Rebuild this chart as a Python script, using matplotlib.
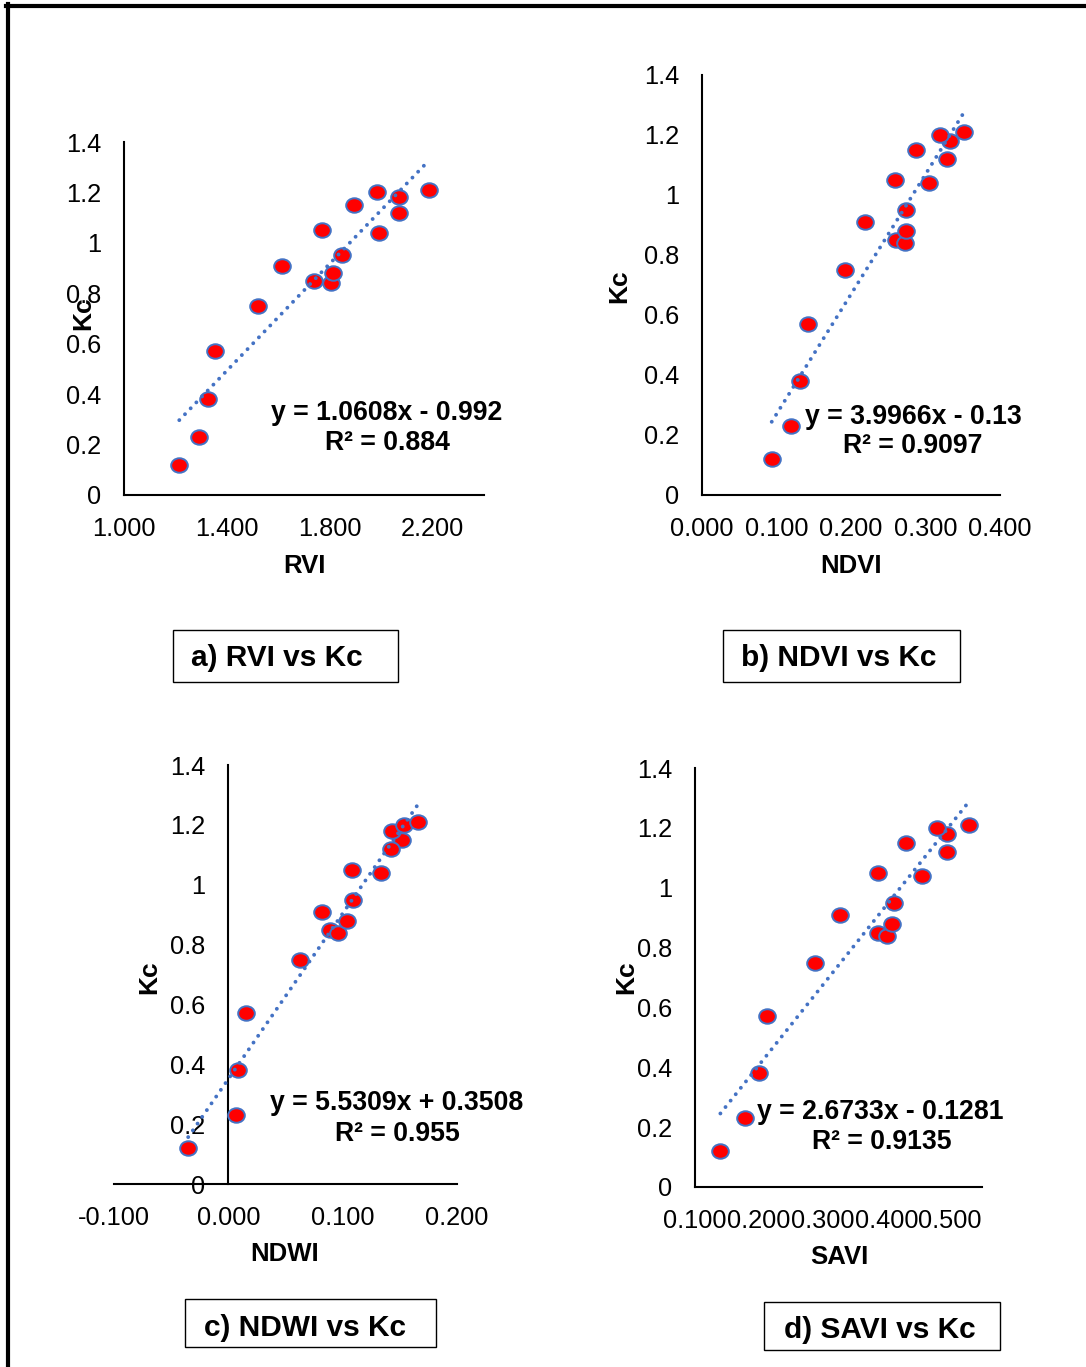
import numpy as np
import matplotlib
matplotlib.use("Agg")
import matplotlib.pyplot as plt
from matplotlib.path import Path
from matplotlib.patches import Rectangle
from matplotlib.lines import Line2D
from matplotlib.ticker import FuncFormatter, FormatStrFormatter

plt.rcParams["font.family"] = ["Liberation Sans", "DejaVu Sans"]
plt.rcParams["axes.unicode_minus"] = False

W, H = 1086, 1367

# Crop coefficient and the four vegetation indices (same sampling dates)
kc = [0.12, 0.23, 0.38, 0.57, 0.75, 0.91, 0.85, 0.84, 0.88, 0.95,
      1.05, 1.04, 1.15, 1.12, 1.18, 1.20, 1.21]
rvi = [1.215, 1.293, 1.326, 1.352, 1.521, 1.615, 1.740, 1.806, 1.814, 1.848,
       1.770, 1.993, 1.894, 2.068, 2.070, 1.985, 2.187]
ndvi = [0.0936, 0.1195, 0.132, 0.1417, 0.1926, 0.2186, 0.2603, 0.2723, 0.2733, 0.2737,
        0.2584, 0.3043, 0.2872, 0.3287, 0.3325, 0.3195, 0.3519]
ndwi = [-0.0351, 0.0067, 0.0085, 0.0155, 0.0627, 0.0815, 0.0885, 0.0961, 0.1037, 0.1091,
        0.1079, 0.1333, 0.1515, 0.1424, 0.1430, 0.1539, 0.1657]
savi = [0.1398, 0.1785, 0.1997, 0.2127, 0.2884, 0.3281, 0.3870, 0.4016, 0.4087, 0.4120,
        0.3874, 0.4561, 0.4316, 0.4958, 0.4953, 0.4800, 0.5291]

index_names = ["RVI", "NDVI", "NDWI", "SAVI"]
panel_titles = ["a) RVI vs Kc", "b) NDVI vs Kc", "c) NDWI vs Kc", "d) SAVI vs Kc"]
slopes = [1.0608, 3.9966, 5.5309, 2.6733]
intercepts = [-0.992, -0.13, 0.3508, -0.1281]
r_squared = [0.884, 0.9097, 0.955, 0.9135]
x_limits = [(1.0, 2.4), (0.0, 0.4), (-0.1, 0.2), (0.1, 0.55)]
x_ticks = [[1.0, 1.4, 1.8, 2.2],
           [0.0, 0.1, 0.2, 0.3, 0.4],
           [-0.1, 0.0, 0.1, 0.2],
           [0.1, 0.2, 0.3, 0.4, 0.5]]
kc_ticks = [0, 0.2, 0.4, 0.6, 0.8, 1.0, 1.2, 1.4]

series = [rvi, ndvi, ndwi, savi]

# Layout in pixels: axes box (left, top, right, bottom), label anchors, caption boxes
layout = [
    dict(ax=(124, 142, 484, 495), xlab=(304, 566), ylab=(83, 313),
         eq=(387, 413), r2=(387, 443), box=(173, 630, 398, 682), cap=(277, 658)),
    dict(ax=(702, 75, 1000, 495), xlab=(851, 566), ylab=(619, 286),
         eq=(913, 417), r2=(913, 446), box=(723, 630, 960, 682), cap=(839, 658)),
    dict(ax=(114, 765, 457, 1184), xlab=(285, 1254), ylab=(149, 977),
         eq=(397, 1103), r2=(397, 1134), box=(185, 1299, 436, 1347), cap=(305, 1328)),
    dict(ax=(695, 768, 982, 1187), xlab=(839, 1257), ylab=(626, 977),
         eq=(880, 1112), r2=(882, 1142), box=(764, 1302, 1000, 1350), cap=(880, 1330)),
]

BLUE = "#4472C4"
RED = "#FF0000"

fig = plt.figure(figsize=(W / 100, H / 100), dpi=100)


def fx(px):
    return px / W


def fy(py):
    return 1 - py / H


# slightly flattened round marker
circle = Path.unit_circle()
oval = Path(circle.vertices * np.array([1.0, 0.87]), circle.codes)

kc_fmt = FuncFormatter(lambda v, p: f"{round(v, 2):g}")

for i in range(4):
    lay = layout[i]
    l, t, r, b = lay["ax"]
    ax = fig.add_axes([fx(l), fy(b), (r - l) / W, (b - t) / H])
    x = np.array(series[i])
    y = np.array(kc)

    ax.plot(x, y, linestyle="none", marker=oval, ms=12,
            mfc=RED, mec=BLUE, mew=1.4, zorder=3)

    xs = np.array([x.min(), x.max()])
    ax.plot(xs, slopes[i] * xs + intercepts[i], color=BLUE, lw=2.8,
            linestyle=(0, (0.01, 2.1)), dash_capstyle="round", zorder=4)

    ax.set_xlim(*x_limits[i])
    ax.set_ylim(0, 1.4)
    ax.set_xticks(x_ticks[i])
    ax.set_yticks(kc_ticks)
    ax.xaxis.set_major_formatter(FormatStrFormatter("%.3f"))
    ax.yaxis.set_major_formatter(kc_fmt)
    ax.tick_params(length=0, labelsize=18.3, colors="black")
    ax.tick_params(axis="y", pad=16.5)
    ax.tick_params(axis="x", pad=16)
    for s in ("top", "right"):
        ax.spines[s].set_visible(False)
    for s in ("left", "bottom"):
        ax.spines[s].set_linewidth(1.5)
        ax.spines[s].set_color("black")
    if x_limits[i][0] < 0:
        ax.spines["left"].set_position(("data", 0))
    ax.patch.set_alpha(0)
    for art in ax.lines:
        art.set_clip_on(False)

    fig.text(fx(lay["xlab"][0]), fy(lay["xlab"][1]), index_names[i],
             ha="center", va="center", fontsize=18.5, fontweight="bold")
    fig.text(fx(lay["ylab"][0]), fy(lay["ylab"][1]), "Kc", rotation=90,
             ha="center", va="center", fontsize=19, fontweight="bold")

    sign = "+" if intercepts[i] >= 0 else "-"
    fig.text(fx(lay["eq"][0]), fy(lay["eq"][1]),
             f"y = {slopes[i]}x {sign} {abs(intercepts[i])}",
             ha="center", va="center", fontsize=19.2, fontweight="bold")
    fig.text(fx(lay["r2"][0]), fy(lay["r2"][1]), f"R\u00b2 = {r_squared[i]}",
             ha="center", va="center", fontsize=19.2, fontweight="bold")

    bl, bt, br, bb = lay["box"]
    fig.add_artist(Rectangle((fx(bl), fy(bb)), (br - bl) / W, (bb - bt) / H,
                             transform=fig.transFigure, fill=False,
                             edgecolor="black", lw=1.0))
    fig.text(fx(lay["cap"][0]), fy(lay["cap"][1]), panel_titles[i],
             ha="center", va="center", fontsize=21.5, fontweight="bold")

# page frame
fig.add_artist(Line2D([fx(6), fx(W + 10)], [fy(6), fy(6)],
                      transform=fig.transFigure, color="black", lw=3.0))
fig.add_artist(Line2D([fx(8), fx(8)], [fy(4), fy(H + 10)],
                      transform=fig.transFigure, color="black", lw=3.0))

fig.savefig("out.png", dpi=100, facecolor="white")
